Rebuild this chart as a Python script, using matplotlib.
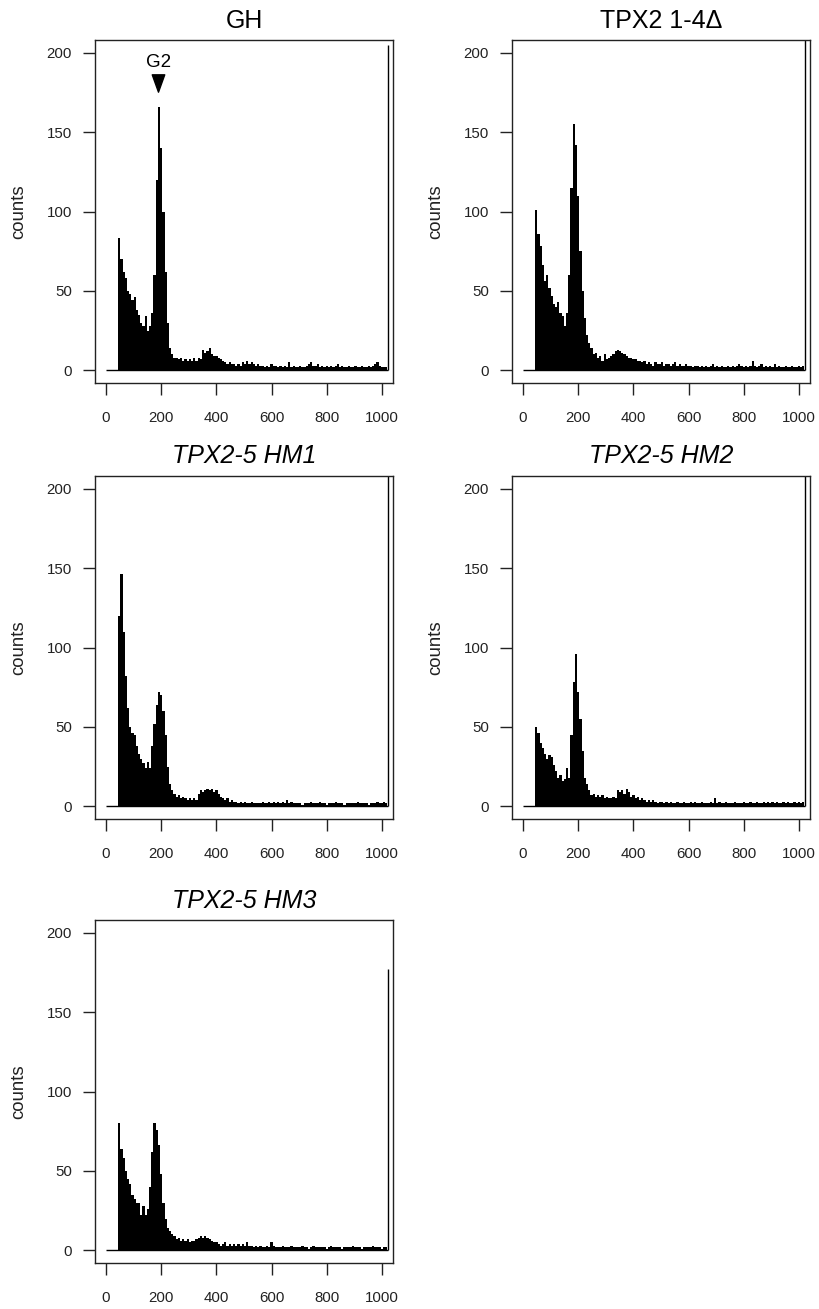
import numpy as np
import matplotlib
matplotlib.use("Agg")
import matplotlib.pyplot as plt
from matplotlib.path import Path

plt.rcParams['font.family'] = ['Liberation Sans', 'DejaVu Sans']

# ---------------- data ----------------
titles = ["GH", "TPX2 1-4\u0394", "TPX2-5 HM1", "TPX2-5 HM2", "TPX2-5 HM3"]
italic = [False, False, True, True, True]

bin_start = 44
bin_width = 8
overflow_x = 1023

gh = [83, 70, 62, 58, 50, 48, 44, 46, 38, 35,
      30, 28, 34, 25, 28, 36, 60, 120, 166, 140,
      100, 62, 30, 14, 10, 8, 8, 7, 8, 6,
      7, 6, 7, 6, 8, 6, 8, 7, 13, 11,
      12, 14, 10, 9, 9, 8, 7, 6, 5, 4,
      5, 4, 4, 3, 4, 3, 5, 4, 6, 4,
      5, 4, 3, 4, 3, 3, 2, 3, 2, 4,
      3, 3, 2, 3, 2, 3, 2, 5, 2, 3,
      2, 2, 3, 2, 2, 3, 4, 5, 3, 3,
      4, 2, 3, 2, 3, 2, 3, 2, 3, 4,
      2, 3, 2, 2, 3, 2, 2, 3, 2, 2,
      3, 2, 2, 3, 2, 3, 4, 5, 3, 2,
      2, 2]

tpx2_d = [101, 86, 78, 66, 56, 60, 52, 47, 42, 40,
          43, 36, 34, 28, 36, 60, 115, 155, 142, 110,
          75, 50, 33, 22, 17, 14, 10, 11, 8, 9,
          6, 10, 7, 8, 9, 10, 12, 13, 12, 11,
          10, 9, 8, 8, 7, 7, 6, 6, 5, 6,
          4, 5, 4, 3, 5, 4, 4, 5, 3, 4,
          4, 3, 4, 5, 3, 4, 3, 3, 4, 3,
          3, 2, 3, 3, 2, 3, 2, 3, 2, 3,
          4, 2, 3, 2, 3, 2, 2, 3, 2, 3,
          2, 3, 4, 3, 2, 3, 2, 3, 6, 3,
          2, 3, 4, 2, 3, 2, 3, 2, 4, 2,
          3, 2, 2, 3, 2, 2, 3, 2, 2, 3,
          2, 3]

hm1 = [120, 146, 110, 82, 62, 50, 46, 45, 38, 33,
       30, 27, 24, 28, 24, 38, 52, 64, 72, 70,
       60, 45, 25, 14, 10, 8, 6, 7, 5, 6,
       5, 4, 5, 4, 5, 4, 8, 10, 9, 10,
       11, 10, 11, 9, 10, 8, 6, 5, 4, 5,
       3, 4, 3, 3, 2, 3, 2, 3, 2, 2,
       3, 2, 2, 2, 2, 3, 2, 2, 3, 2,
       3, 2, 3, 2, 3, 2, 4, 2, 3, 2,
       2, 2, 2, 1, 2, 2, 2, 3, 2, 2,
       2, 3, 2, 2, 1, 2, 2, 2, 3, 2,
       2, 2, 1, 2, 2, 2, 2, 2, 3, 2,
       2, 2, 2, 1, 2, 2, 2, 3, 2, 2,
       3, 2]

hm2 = [50, 46, 40, 37, 33, 30, 32, 31, 26, 22,
       18, 20, 16, 17, 24, 18, 45, 78, 96, 72,
       55, 35, 18, 14, 10, 7, 8, 6, 7, 6,
       7, 5, 6, 5, 5, 6, 5, 10, 9, 10,
       8, 11, 9, 6, 7, 5, 6, 4, 5, 4,
       3, 4, 3, 4, 3, 2, 3, 3, 2, 3,
       2, 3, 2, 2, 3, 2, 2, 3, 2, 2,
       3, 2, 3, 2, 2, 3, 2, 2, 2, 3,
       2, 5, 2, 3, 2, 2, 3, 2, 2, 2,
       3, 2, 2, 2, 3, 2, 2, 3, 2, 2,
       3, 2, 2, 3, 2, 3, 2, 3, 2, 3,
       2, 2, 3, 2, 3, 2, 2, 3, 2, 3,
       2, 3]

hm3 = [80, 64, 58, 50, 45, 42, 35, 32, 30, 30,
       22, 28, 22, 26, 40, 62, 80, 76, 66, 48,
       30, 20, 14, 12, 10, 9, 7, 8, 6, 7,
       6, 7, 5, 6, 6, 7, 8, 9, 8, 9,
       8, 7, 6, 5, 5, 4, 3, 4, 5, 3,
       4, 3, 4, 3, 4, 3, 4, 3, 5, 3,
       3, 2, 3, 2, 3, 2, 2, 3, 2, 5,
       3, 2, 2, 2, 3, 2, 2, 2, 3, 2,
       2, 2, 2, 3, 2, 2, 1, 2, 3, 2,
       2, 2, 2, 2, 1, 2, 3, 2, 2, 2,
       2, 1, 2, 2, 2, 2, 3, 2, 2, 2,
       1, 2, 2, 2, 2, 3, 2, 2, 2, 1,
       2, 2]

series = [gh, tpx2_d, hm1, hm2, hm3]
overflow = [205, 250, 250, 250, 177]

g2_x, g2_y_text, g2_y_marker = 190, 194, 181

xticks = [0, 200, 400, 600, 800, 1000]
yticks = [0, 50, 100, 150, 200]

# ---------------- layout ----------------
W, H = 819, 1309
fig = plt.figure(figsize=(W / 100, H / 100), dpi=100)
# pixel boxes: left, top, right, bottom
boxes = [(95, 40, 393, 383), (512, 40, 810, 383),
         (95, 476, 393, 819), (512, 476, 810, 819),
         (95, 920, 393, 1263)]

tri = Path([(0, -1), (-0.72, 1), (0.72, 1), (0, -1)],
           [Path.MOVETO, Path.LINETO, Path.LINETO, Path.CLOSEPOLY])

for i, (l, t, r, b) in enumerate(boxes):
    ax = fig.add_axes([l / W, 1 - b / H, (r - l) / W, (b - t) / H])
    counts = np.asarray(series[i], dtype=float)
    edges = bin_start + bin_width * np.arange(len(counts) + 1)
    ax.stairs(counts, edges, fill=True, color='black', lw=0.5)
    ax.hlines(0, 0, overflow_x, color='black', lw=1.0)
    ax.vlines(overflow_x, 0, overflow[i], color='black', lw=1.0)
    ax.set_xlim(-40, 1040)
    ax.set_ylim(-8, 208)
    ax.set_xticks(xticks)
    ax.set_yticks(yticks)
    ax.tick_params(direction='out', length=8.5, width=1.0, labelsize=10.8,
                   colors='#222222')
    ax.tick_params(axis='x', pad=12)
    ax.tick_params(axis='y', pad=8)
    for sp in ax.spines.values():
        sp.set_linewidth(1.0)
        sp.set_color('#222222')
    ax.set_ylabel("counts", fontsize=13.4, labelpad=14, color='#222222')
    ax.set_title(titles[i], fontsize=18, pad=9,
                 fontstyle='italic' if italic[i] else 'normal')
    if i == 0:
        ax.text(g2_x, g2_y_text, "G2", ha='center', va='center', fontsize=13.5)
        ax.plot([g2_x], [g2_y_marker], marker=tri, markersize=12.5,
                color='black', linestyle='none')

fig.savefig("out.png", dpi=100)
